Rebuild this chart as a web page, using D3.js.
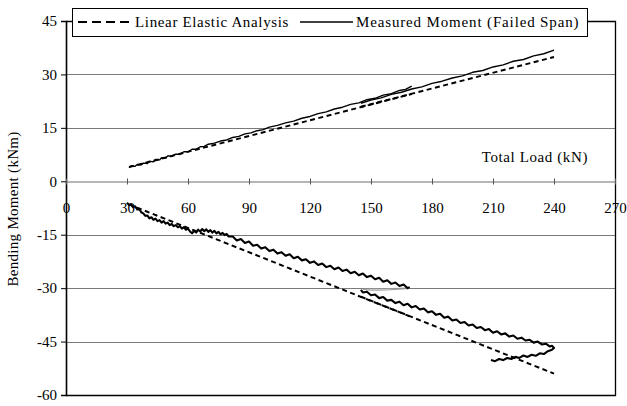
<!DOCTYPE html>
<html>
<head>
<meta charset="utf-8">
<script src="https://cdn.jsdelivr.net/npm/d3@7"></script>
<style>
  html, body { margin: 0; padding: 0; background: #fff; }
  svg { display: block; }
  text { font-family: "Liberation Serif", "Times New Roman", serif; fill: #000; }
</style>
</head>
<body>
<svg id="chart" width="627" height="406"></svg>
<script>
// Axis ticks
const xTicks = [0, 30, 60, 90, 120, 150, 180, 210, 240, 270];
const yTicks = [45, 30, 15, 0, -15, -30, -45, -60];

// Legend / labels
const seriesNames = ["Linear Elastic Analysis", "Measured Moment (Failed Span)"];
const xTitle = "Total Load (kN)";
const yTitle = "Bending Moment (kNm)";

// [total load kN, bending moment kNm]
// Sagging moment, measured, first load cycle (to 170 kN)
const measuredSagCycle1 = [
  [31,3.8],[32,4.3],[34,4.2],[35,4.7],[37,4.6],[38,5.1],[40,5.0],[41,5.6],[43,5.5],[44,6.1],
  [46,6.0],[47,6.6],[49,6.5],[50,7.1],[52,7.1],[54,7.6],[56,7.6],[58,8.3],[60,8.3],[62,9.0],
  [64,9.0],[66,9.7],[68,9.8],[70,10.4],[73,10.7],[76,11.3],[79,11.6],[82,12.3],[85,12.6],
  [88,13.3],[91,13.6],[94,14.2],[97,14.5],[100,15.2],[104,15.7],[108,16.4],[112,16.9],
  [116,17.7],[120,18.2],[124,19.0],[128,19.5],[132,20.3],[136,20.8],[140,21.6],[144,22.0],
  [148,22.9],[152,23.3],[156,24.2],[160,24.6],[164,25.5],[167,25.8],[170,26.7]
];
// Sagging moment, measured, second load cycle (to 240 kN)
const measuredSagCycle2 = [
  [145,21.9],[150,22.8],[155,23.4],[160,24.4],[165,25.0],[170,25.9],[175,26.5],[180,27.5],
  [185,28.1],[190,29.0],[195,29.6],[200,30.6],[205,31.1],[210,32.1],[215,32.7],[220,33.7],
  [225,34.2],[230,35.2],[235,35.8],[240,36.8]
];
// Sagging moment, linear elastic analysis
const elasticSagCycle1 = [[31,4.0],[170,24.5]];
const elasticSagCycle2 = [[145,20.9],[240,34.9]];

// Hogging moment, measured, first load cycle
const measuredHogCycle1 = [
  [30,-6.0],[31,-6.7],[32,-6.5],[33,-7.3],[34,-7.0],[35,-7.9],[36,-7.7],[37,-8.7],[38,-9.0],
  [39,-9.7],[40,-9.6],[41,-10.4],[42,-10.1],[43,-10.8],[44,-10.5],[45,-11.2],[46,-10.9],
  [47,-11.6],[48,-11.2],[49,-11.9],[50,-11.6],[51,-12.3],[52,-12.0],[53,-12.6],[54,-12.3],
  [55,-12.9],[56,-12.6],[57,-13.3],[58,-12.9],[59,-13.6],[60,-13.3],[61,-14.1],[62,-14.6],
  [63,-13.9],[64,-14.4],[65,-13.6],[66,-14.1],[67,-13.4],[68,-14.0],[69,-13.5],[70,-14.2],
  [71,-13.7],[72,-14.4],[73,-13.9],[74,-14.6],[75,-14.2],[76,-14.9],[77,-14.5],[78,-15.1],
  [79,-14.8],[80,-15.5],[82,-15.5],[84,-16.6],[86,-16.2],[88,-17.3],[90,-16.9],[92,-18.1],
  [94,-17.8],[96,-18.9],[98,-18.5],[100,-19.6],[102,-19.2],[104,-20.3],[106,-19.9],
  [108,-20.9],[110,-20.5],[112,-21.6],[114,-21.2],[116,-22.2],[118,-21.9],[120,-22.9],
  [122,-22.5],[124,-23.5],[126,-23.1],[128,-24.1],[130,-23.7],[132,-24.7],[134,-24.2],
  [136,-25.2],[138,-24.8],[140,-25.8],[142,-25.4],[144,-26.4],[146,-25.9],[148,-26.9],
  [150,-26.5],[152,-27.5],[154,-27.1],[156,-28.2],[158,-27.8],[160,-28.8],[162,-28.4],
  [164,-29.4],[166,-29.0],[168,-30.0],[169,-29.7]
];
// Hogging moment, measured, unload / reload loop
const measuredHogLoop = [
  [169,-29.8],[166,-30.0],[160,-30.1],[154,-30.2],[149,-30.2],[146,-30.3],
  [148,-30.5],[152,-30.6],[158,-30.5],[164,-30.3],[169,-30.1]
];
// Hogging moment, measured, second load cycle (with drop-off after peak)
const measuredHogCycle2 = [
  [145,-30.5],[146,-31.2],[148,-31.0],[150,-32.0],[152,-31.8],[154,-32.8],[156,-32.5],
  [158,-33.5],[160,-33.3],[162,-34.2],[164,-33.8],[166,-34.8],[168,-34.4],[170,-35.4],
  [172,-35.0],[174,-36.0],[176,-35.7],[178,-36.8],[180,-36.5],[182,-37.5],[184,-37.2],
  [186,-38.3],[188,-38.0],[190,-39.1],[192,-38.8],[194,-39.8],[196,-39.5],[198,-40.5],
  [200,-40.2],[202,-41.2],[204,-40.9],[206,-41.8],[208,-41.5],[210,-42.5],[212,-42.1],
  [214,-43.0],[216,-42.7],[218,-43.6],[220,-43.3],[222,-44.2],[224,-43.9],[226,-44.7],
  [228,-44.5],[230,-45.3],[232,-45.0],[234,-45.8],[236,-45.6],[238,-46.4],[239,-46.2],
  [240,-46.8],[239,-47.3],[237,-47.7],[235,-48.5],[233,-48.3],[231,-49.0],[229,-48.7],
  [227,-49.3],[225,-48.9],[223,-49.6],[221,-49.3],[219,-49.9],[217,-49.6],[215,-50.2],
  [213,-49.9],[211,-50.5],[209,-50.2]
];
// Hogging moment, linear elastic analysis
const elasticHogCycle1 = [[31,-6.5],[169,-37.9]];
const elasticHogCycle2 = [[145,-32.4],[240,-54.0]];

const svg = d3.select("#chart");
const plotLeft = 66, plotRight = 615, plotTop = 21, plotBottom = 395;

const x = d3.scaleLinear().domain([0, 270]).range([plotLeft, plotRight]);
const y = d3.scaleLinear().domain([-60, 45]).range([plotBottom, plotTop]);

// Horizontal gridlines
svg.append("g").selectAll("line")
  .data(yTicks.filter(v => v !== 45 && v !== -60 && v !== 0))
  .join("line")
  .attr("x1", plotLeft).attr("x2", plotRight)
  .attr("y1", d => Math.round(y(d)) + 0.5).attr("y2", d => Math.round(y(d)) + 0.5)
  .attr("stroke", "#7a7a7a").attr("stroke-width", 1);

// Plot frame (top, right, bottom)
svg.append("path")
  .attr("d", `M${plotLeft},${Math.round(y(45)) + 0.5}H${plotRight + 0.5}V${Math.round(y(-60)) + 0.5}H${plotLeft}`)
  .attr("fill", "none").attr("stroke", "#000").attr("stroke-width", 1.3);

// Y axis
const yAxis = d3.axisLeft(y).tickValues(yTicks).tickSize(5).tickPadding(4).tickFormat(d3.format("d"));
const gy = svg.append("g").attr("transform", `translate(${plotLeft},0)`).call(yAxis);
gy.select(".domain").attr("stroke", "#000").attr("stroke-width", 1.6);
gy.selectAll(".tick line").attr("stroke", "#000");
gy.selectAll(".tick text")
  .style("font-family", '"Liberation Serif", serif').style("font-size", "15px")
  .attr("fill", "#000").text(d => String(d));

// X axis along zero moment
const xAxis = d3.axisBottom(x).tickValues(xTicks).tickSize(0).tickPadding(0).tickFormat(d3.format("d"));
const gx = svg.append("g").attr("transform", `translate(0,${Math.round(y(0)) + 0.5})`).call(xAxis);
gx.select(".domain").attr("stroke", "#6e6e6e").attr("stroke-width", 1.2);
gx.selectAll(".tick line").attr("y1", -3).attr("y2", 3).attr("stroke", "#555");
gx.selectAll(".tick text")
  .style("font-family", '"Liberation Serif", serif').style("font-size", "15px")
  .attr("fill", "#000").attr("dy", null).attr("y", 31);

// Data lines
const line = d3.line().x(d => x(d[0])).y(d => y(d[1]));
const plot = svg.append("g");

[elasticSagCycle1, elasticSagCycle2, elasticHogCycle1, elasticHogCycle2].forEach(s => {
  plot.append("path").datum(s).attr("d", line)
    .attr("fill", "none").attr("stroke", "#000").attr("stroke-width", 2)
    .attr("stroke-dasharray", "5,3.5");
});

plot.append("path").datum(measuredHogLoop).attr("d", line)
  .attr("fill", "none").attr("stroke", "#9a9a9a").attr("stroke-width", 1);

[measuredSagCycle1, measuredSagCycle2].forEach(s => {
  plot.append("path").datum(s).attr("d", line)
    .attr("fill", "none").attr("stroke", "#000").attr("stroke-width", 1.4)
    .attr("stroke-linejoin", "round");
});
[measuredHogCycle1, measuredHogCycle2].forEach(s => {
  plot.append("path").datum(s).attr("d", line)
    .attr("fill", "none").attr("stroke", "#000").attr("stroke-width", 2.1)
    .attr("stroke-linejoin", "round");
});

// Axis titles
svg.append("text")
  .attr("x", 588).attr("y", 162).attr("text-anchor", "end")
  .style("font-size", "15px").style("letter-spacing", "0.6px")
  .text(xTitle);

svg.append("text")
  .attr("transform", `translate(18,209) rotate(-90)`)
  .attr("text-anchor", "middle")
  .style("font-size", "15px").style("letter-spacing", "0.3px")
  .text(yTitle);

// Legend
const lg = svg.append("g");
lg.append("rect").attr("x", 72.5).attr("y", 8.5).attr("width", 515).attr("height", 28)
  .attr("fill", "#fff").attr("stroke", "#000").attr("stroke-width", 1);
lg.append("line").attr("x1", 78).attr("x2", 131).attr("y1", 22).attr("y2", 22)
  .attr("stroke", "#000").attr("stroke-width", 2).attr("stroke-dasharray", "9,5");
lg.append("text").attr("x", 135).attr("y", 27)
  .style("font-size", "15px").style("letter-spacing", "0.65px").text(seriesNames[0]);
lg.append("line").attr("x1", 300).attr("x2", 353).attr("y1", 22).attr("y2", 22)
  .attr("stroke", "#000").attr("stroke-width", 1.3);
lg.append("text").attr("x", 356).attr("y", 27)
  .style("font-size", "15px").style("letter-spacing", "0.85px").text(seriesNames[1]);
</script>
</body>
</html>
